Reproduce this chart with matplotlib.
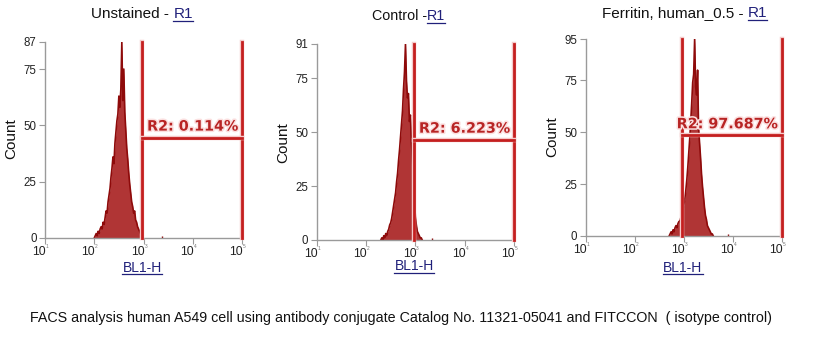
import matplotlib
matplotlib.use("Agg")
import matplotlib.pyplot as plt
import matplotlib.patheffects as pe
from matplotlib.lines import Line2D
import numpy as np

plt.rcParams['font.family'] = ['Liberation Sans', 'DejaVu Sans']

# ---------------- data ----------------
titles_main = ["Unstained - ", "Control -", "Ferritin, human_0.5 - "]
title_link = "R1"
x_label = "BL1-H"
y_label = "Count"
gate_labels = ["R2: 0.114%", "R2: 6.223%", "R2: 97.687%"]
y_max = [87, 91, 95]
y_ticks = [0, 25, 50, 75]
x_decades = [1, 2, 3, 4, 5]
gate_start = [950, 940, 935]
gate_end = 1e5
gate_level = [44.5, 46.5, 48.5]

# log10 channel positions (start, step) and counts per panel
log_start = [2.00, 2.30, 2.70]
log_step = 0.02
counts_unstained = [0, 1, 2, 1, 3, 2, 4, 5, 4, 7, 6, 9, 12, 11, 16, 19, 22, 27,
                    31, 36, 33, 42, 47, 52, 55, 63, 58, 66, 87, 61, 75, 56, 48,
                    40, 35, 29, 24, 20, 16, 14, 11, 12, 8, 7, 5, 4, 3, 2, 1, 0]
counts_control = [0, 1, 0, 2, 1, 3, 2, 4, 5, 7, 8, 10, 13, 16, 19, 22, 27, 31,
                  37, 42, 48, 54, 60, 70, 78, 91, 74, 66, 68, 55, 58, 45, 38,
                  30, 20, 11, 7, 4, 3, 2, 1, 1, 0]
counts_ferritin = [0, 1, 2, 1, 3, 2, 4, 5, 4, 6, 7, 7, 9, 11, 13, 15, 18, 22, 27,
                   33, 40, 47, 55, 64, 74, 78, 95, 72, 68, 80, 52, 45, 38, 30,
                   24, 19, 14, 10, 8, 5, 4, 3, 2, 1, 1, 0]
all_counts = [counts_unstained, counts_control, counts_ferritin]
# isolated events beyond the main peak (log10 position, count)
stray_log = [3.37, 3.33, 3.90]
stray_count = [1, 1, 1]

caption = ("FACS analysis human A549 cell using antibody conjugate Catalog No. "
           "11321-05041 and FITCCON  ( isotype control)")

# ---------------- layout (pixels) ----------------
W, H = 823, 356
fig = plt.figure(figsize=(W / 100, H / 100), dpi=100)
fig.patch.set_facecolor("white")

axes_px = [(45, 242, 42, 238), (316.7, 514, 44, 240), (585.7, 782, 39, 236)]
title_px = [(173.3, 14), (426.7, 16), (747.7, 13)]
title_size = [11, 10.3, 11]
xlabel_px = [(142, 267.5), (414, 266.5), (683, 267.5)]
count_px = [(11, 139), (283, 143), (552, 137)]

def fx(px):
    return px / W

def fy(py):
    return 1 - py / H

hist_color = "#8e0a0a"
gate_color = "#c41f1f"
halo = [pe.withStroke(linewidth=3.2, foreground="#f5caca")]
link_color = "#20207a"
grey = "#9a9a9a"

texts_to_underline = []

for i in range(3):
    l, r, t, b = axes_px[i]
    ax = fig.add_axes([fx(l), fy(b), fx(r - l), (b - t) / H])
    ax.set_xscale("log")
    ax.set_xlim(10 ** x_decades[0], 10 ** x_decades[-1])
    ax.set_ylim(0, y_max[i])
    for s in ("top", "right"):
        ax.spines[s].set_visible(False)
    for s in ("left", "bottom"):
        ax.spines[s].set_color(grey)
        ax.spines[s].set_linewidth(1.0)

    # histogram
    cnt = np.array(all_counts[i], dtype=float)
    lg = log_start[i] + log_step * np.arange(len(cnt))
    xs = 10 ** lg
    ax.fill_between(xs, 0, cnt, color="#a31212", alpha=0.85, linewidth=0)
    ax.plot(xs, cnt, color=hist_color, linewidth=1.2)
    ax.vlines(10 ** stray_log[i], 0, stray_count[i], color=hist_color, linewidth=1)

    # gate R2
    g0 = gate_start[i]
    ax.plot([g0, g0], [0, y_max[i]], color=gate_color, linewidth=2,
            path_effects=halo, clip_on=False, zorder=5)
    ax.plot([gate_end, gate_end], [0, y_max[i]], color=gate_color, linewidth=2,
            path_effects=halo, clip_on=False, zorder=5)
    ax.plot([g0, gate_end], [gate_level[i], gate_level[i]], color=gate_color,
            linewidth=2, path_effects=halo, clip_on=False, zorder=5)
    ax.annotate(gate_labels[i], xy=(gate_end, gate_level[i]), xytext=(-3, 3),
                textcoords="offset points", ha="right", va="bottom",
                fontsize=10.3, fontweight="bold", family="DejaVu Sans",
                color="#b82424", zorder=6,
                path_effects=[pe.withStroke(linewidth=2.2, foreground="#fbe0e0")])

    # y ticks
    yt = y_ticks + [y_max[i]]
    ax.set_yticks(yt)
    ax.set_yticklabels([str(v) for v in yt])
    ax.tick_params(axis="y", length=4, width=0.8, color=grey, labelsize=8.3,
                   labelcolor="#222222", pad=2)
    # x ticks
    ax.set_xticks([10.0 ** d for d in x_decades])
    ax.set_xticklabels([])
    ax.tick_params(axis="x", which="major", length=4, width=0.8, color=grey)
    ax.tick_params(axis="x", which="minor", length=2.5, width=0.6, color=grey)
    for d in x_decades:
        ax.annotate("10", xy=(10.0 ** d, 0), xycoords=("data", "axes fraction"),
                    xytext=(1, -14), textcoords="offset pixels", ha="right",
                    va="center", fontsize=8.8, color="#222222", annotation_clip=False)
        ax.annotate(str(d), xy=(10.0 ** d, 0), xycoords=("data", "axes fraction"),
                    xytext=(1, -8), textcoords="offset pixels", ha="left",
                    va="center", fontsize=3.5, color="#777777", annotation_clip=False)

    # titles
    tx, ty = title_px[i]
    fig.text(fx(tx), fy(ty), titles_main[i], ha="right", va="center",
             fontsize=title_size[i], color="#111111")
    tl = fig.text(fx(tx), fy(ty), title_link, ha="left", va="center",
                  fontsize=title_size[i], color=link_color)
    texts_to_underline.append(tl)

    # x label
    xl, yl = xlabel_px[i]
    xt = fig.text(fx(xl), fy(yl), x_label, ha="center", va="center",
                  fontsize=10, color=link_color)
    texts_to_underline.append(xt)

    # count label
    cx, cy = count_px[i]
    fig.text(fx(cx), fy(cy), y_label, ha="center", va="center", rotation=90,
             fontsize=11, color="#111111")

fig.text(fx(30), fy(318), caption, ha="left", va="center", fontsize=10.3,
         color="#111111")

fig.canvas.draw()
renderer = fig.canvas.get_renderer()
for t in texts_to_underline:
    bb = t.get_window_extent(renderer)
    yline = bb.y0 + 0.5
    fig.add_artist(Line2D([bb.x0 / W, bb.x1 / W], [yline / H, yline / H],
                          transform=fig.transFigure, color=link_color,
                          linewidth=0.9))

fig.savefig("out.png", dpi=100, facecolor="white")
